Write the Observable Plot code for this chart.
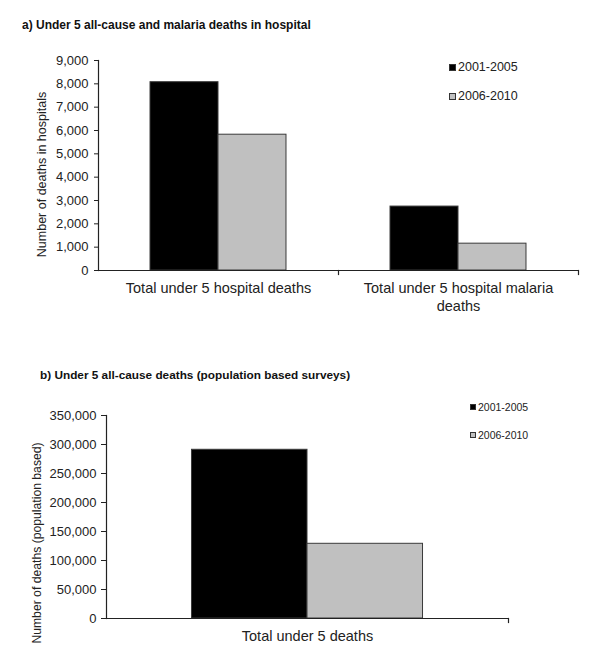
<!DOCTYPE html>
<html>
<head>
<meta charset="utf-8">
<script src="https://cdn.jsdelivr.net/npm/d3@7"></script>
<script src="https://cdn.jsdelivr.net/npm/@observablehq/plot@0.6"></script>
<style>
  body { margin: 0; background: #fff; font-family: "Liberation Sans", Arial, sans-serif; }
  #page { position: relative; width: 600px; height: 664px; overflow: hidden; }
  .title { position: absolute; font-weight: bold; font-size: 12px; color: #111; white-space: nowrap; line-height: 1; }
  .chart { position: absolute; left: 0; }
  .legend { position: absolute; color: #222; white-space: nowrap; }
  .legend .item { display: flex; align-items: center; position: absolute; left: 0; }
  .legend .sw { display: inline-block; box-sizing: border-box; border: 1px solid #333; margin-right: 2px; }
</style>
</head>
<body>
<div id="page"></div>
<script>
// ---------- data ----------
const titleA = "a) Under 5 all-cause and malaria deaths in hospital";
const titleB = "b) Under 5 all-cause deaths (population based surveys)";
const periods = ["2001-2005", "2006-2010"];
const categoriesA = ["Total under 5 hospital deaths", "Total under 5 hospital malaria deaths"];
const hospitalAllCause = [8070, 5820];   // by period
const hospitalMalaria = [2740, 1150];    // by period
const categoriesB = ["Total under 5 deaths"];
const populationDeaths = [290900, 128800]; // by period
const yLabelA = "Number of deaths in hospitals";
const yLabelB = "Number of deaths (population based)";
const colors = ["#000000", "#c0c0c0"];

const tableA = [];
[hospitalAllCause, hospitalMalaria].forEach((vals, ci) =>
  vals.forEach((v, pi) => tableA.push({category: categoriesA[ci], period: periods[pi], value: v})));
const tableB = populationDeaths.map((v, pi) => ({category: categoriesB[0], period: periods[pi], value: v}));

const page = document.getElementById("page");
const fmt = d3.format(",");

function addTitle(text, left, top, size) {
  const t = document.createElement("div");
  t.className = "title";
  t.textContent = text;
  t.style.left = left + "px";
  t.style.top = top + "px";
  t.style.fontSize = size + "px";
  page.appendChild(t);
}

function addLegend(left, top, gap, fontSize, sw) {
  const lg = document.createElement("div");
  lg.className = "legend";
  lg.style.left = left + "px";
  lg.style.top = top + "px";
  lg.style.fontSize = fontSize + "px";
  periods.forEach((p, i) => {
    const it = document.createElement("div");
    it.className = "item";
    it.style.top = (i * gap) + "px";
    const s = document.createElement("span");
    s.className = "sw";
    s.style.width = sw + "px";
    s.style.height = sw + "px";
    s.style.background = colors[i];
    it.appendChild(s);
    const tx = document.createElement("span");
    tx.textContent = p;
    it.appendChild(tx);
    lg.appendChild(it);
  });
  page.appendChild(lg);
}

function makeChart(opts) {
  const plotH = opts.height - opts.marginTop - opts.marginBottom;
  const chart = Plot.plot({
    width: 600,
    height: opts.height,
    marginTop: opts.marginTop,
    marginBottom: opts.marginBottom,
    marginLeft: opts.marginLeft,
    marginRight: opts.marginRight,
    style: {fontFamily: "'Liberation Sans', Arial, sans-serif", fontSize: "13px", color: "#222", background: "white"},
    fx: {domain: opts.categories, padding: 0, axis: null, label: null},
    x: {domain: periods, paddingInner: 0, paddingOuter: opts.paddingOuter, axis: null, round: false},
    y: {domain: opts.yDomain, axis: null, label: null},
    color: {domain: periods, range: colors},
    marks: [
      Plot.barY(opts.data, {fx: "category", x: "period", y: "value", fill: "period", stroke: "#3a3a3a", strokeWidth: 1}),
      Plot.ruleY([0], {stroke: "#222", strokeWidth: 1.2}),
      Plot.frame({anchor: "left", facetAnchor: "left", stroke: "#222", strokeWidth: 1.2}),
      Plot.frame({anchor: "right", stroke: "#222", strokeWidth: 1.2, insetTop: plotH, insetBottom: -4}),
      Plot.axisY({
        ticks: opts.yTicks, tickFormat: fmt, tickSize: opts.tickSize, tickPadding: opts.tickPadding,
        fontSize: opts.tickFont, stroke: "#222", label: null
      }),
      Plot.text([opts.yLabel], {
        text: (d) => d, frameAnchor: "left", facetAnchor: "left", rotate: -90,
        textAnchor: "middle", dx: opts.labelDx, dy: opts.labelDy, fontSize: opts.labelFont, fill: "#222"
      }),
      Plot.axisFx({anchor: "bottom", tickSize: 0, tickPadding: 10, fontSize: opts.catFont, label: null, lineWidth: opts.lineWidth, lineHeight: 1.25})
    ]
  });
  chart.classList.add("chart");
  chart.style.top = opts.top + "px";
  chart.style.position = "absolute";
  page.appendChild(chart);
  return chart;
}

// Panel a
addTitle(titleA, 22, 19, 12);
makeChart({
  data: tableA, categories: categoriesA, top: 40, height: 290,
  marginTop: 20, marginBottom: 60, marginLeft: 98, marginRight: 22,
  paddingOuter: 0.765, yDomain: [0, 9000], yTicks: d3.range(0, 9001, 1000),
  tickSize: 4, tickPadding: 6, tickFont: 13, yLabel: yLabelA, labelDx: -57, labelDy: 9, labelFont: 12.5,
  catFont: 14.5, lineWidth: 16
});
addLegend(449, 60, 29, 12.5, 7);

// Panel b
addTitle(titleB, 40, 370, 11.8);
makeChart({
  data: tableB, categories: categoriesB, top: 395, height: 269,
  marginTop: 20, marginBottom: 46, marginLeft: 106, marginRight: 92,
  paddingOuter: 0.74, yDomain: [0, 350000], yTicks: d3.range(0, 350001, 50000),
  tickSize: 5, tickPadding: 5, tickFont: 13, yLabel: yLabelB, labelDx: -69, labelDy: 26, labelFont: 12.2,
  catFont: 14.5, lineWidth: 20
});
addLegend(470, 401, 28, 10.5, 6);
</script>
</body>
</html>
